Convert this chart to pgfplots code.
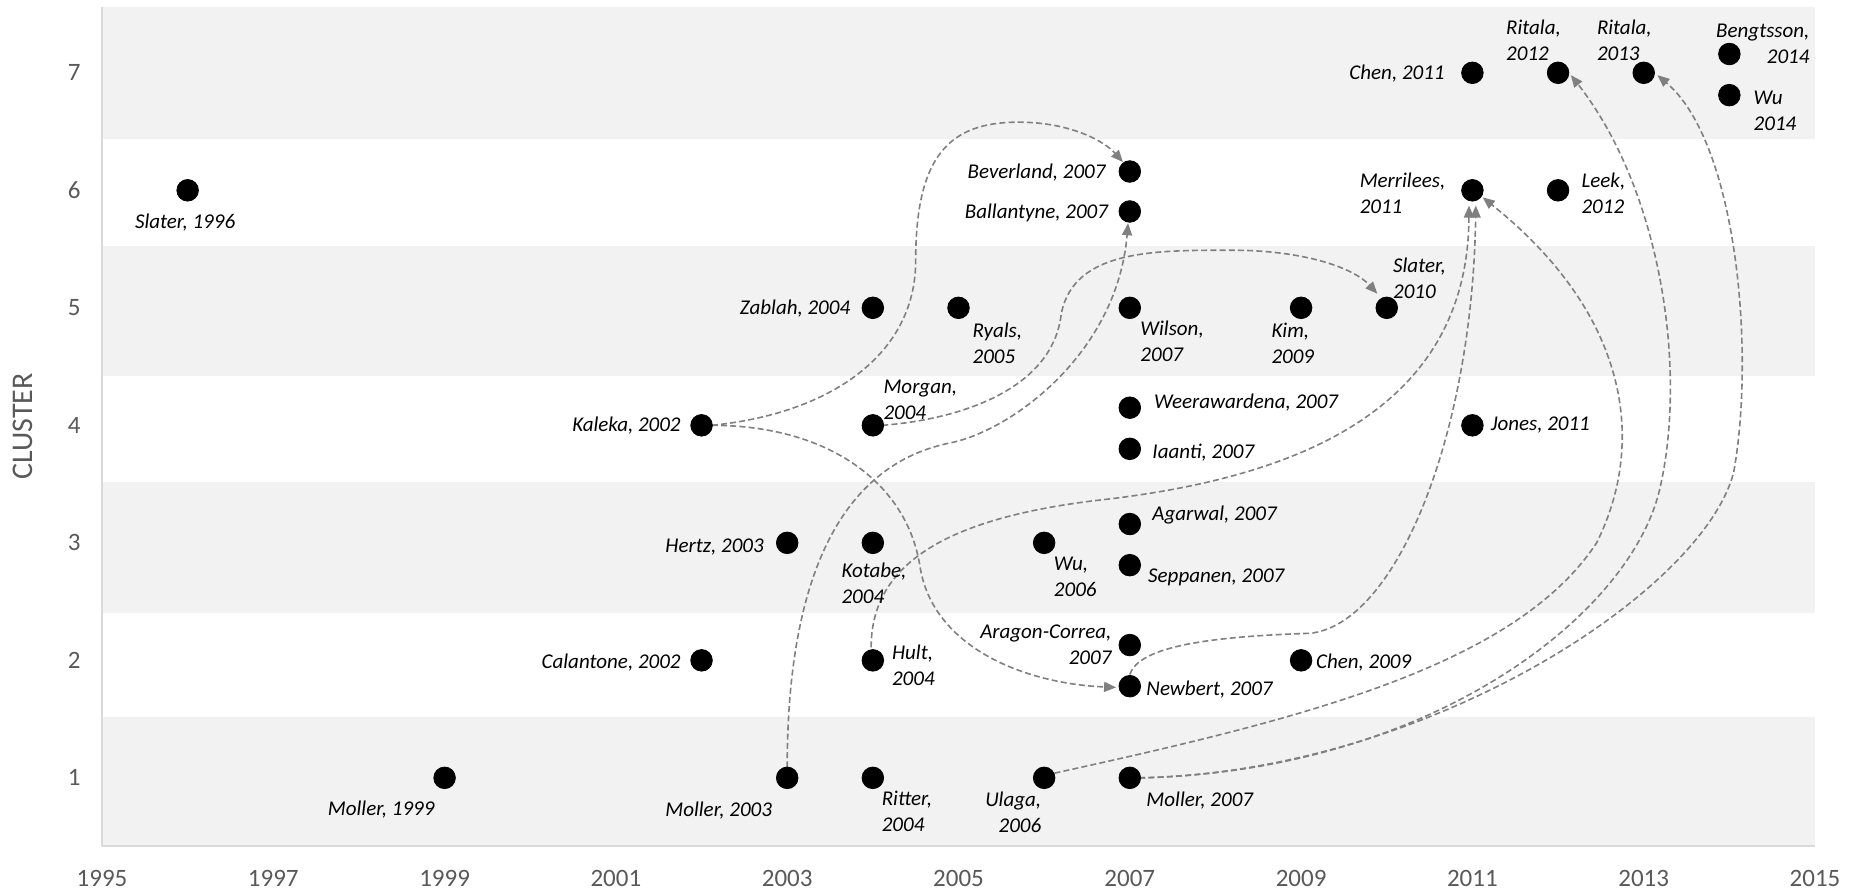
\documentclass[border=0pt]{standalone}
\usepackage{fontspec}
\setmainfont{Carlito}
\usepackage{pgfplots}
\pgfplotsset{compat=1.18}
\usetikzlibrary{arrows.meta}

\definecolor{band}{HTML}{F2F2F2}
\definecolor{axisgray}{HTML}{D9D9D9}
\definecolor{ticktext}{HTML}{595959}
\definecolor{arrowgray}{HTML}{808080}

\tikzset{
  lab/.style={font=\fontsize{10.5}{13}\selectfont\itshape, inner sep=0pt, align=left},
  link/.style={arrowgray, line width=0.8pt, dash pattern=on 3pt off 1.6pt,
    -{Triangle[length=6pt,width=5pt]}},
}

\begin{document}
\begin{tikzpicture}
\begin{axis}[
  width=856.5pt, height=419.5pt, scale only axis,
  xmin=1995, xmax=2015, ymin=0.42, ymax=7.56,
  axis x line*=bottom, axis y line*=left,
  axis line style={axisgray, line width=1pt, -},
  xtick={1995,1997,...,2015}, ytick={1,...,7},
  major tick length=0pt,
  tick label style={font=\fontsize{12.5}{15}\selectfont, text=ticktext, inner sep=0pt},
  xticklabel style={anchor=north, yshift=-12pt},
  yticklabel style={anchor=east, xshift=-10.5pt},
  /pgf/number format/1000 sep={},
  /pgf/number format/assume math mode=true,
  ylabel={CLUSTER},
  ylabel style={at={(axis description cs:-0.0461,0.5)}, anchor=center,
    font=\fontsize{15}{18}\selectfont, text=ticktext},
  clip=false,
  axis on top,
]
\coordinate (bl) at (rel axis cs:0,0);
\coordinate (tr) at (rel axis cs:1,1);

% background bands
\addplot[fill=band, draw=none] coordinates {(1995,6.44) (2015,6.44) (2015,7.56) (1995,7.56)} -- cycle;
\addplot[fill=band, draw=none] coordinates {(1995,4.42) (2015,4.42) (2015,5.53) (1995,5.53)} -- cycle;
\addplot[fill=band, draw=none] coordinates {(1995,2.40) (2015,2.40) (2015,3.52) (1995,3.52)} -- cycle;
\addplot[fill=band, draw=none] coordinates {(1995,0.42) (2015,0.42) (2015,1.52) (1995,1.52)} -- cycle;

% links between papers
\draw[link] (2002.12,4.0) .. controls (2003.5,4.1) and (2004.5,4.6) .. (2004.5,5.4)
  .. controls (2004.5,6.3) and (2004.9,6.58) .. (2005.7,6.58)
  .. controls (2006.3,6.58) and (2006.7,6.42) .. (2006.92,6.24);
\draw[link] (2002.12,4.0) .. controls (2003.5,4.0) and (2004.4,3.5) .. (2004.55,2.8)
  .. controls (2004.7,2.1) and (2005.8,1.8) .. (2006.84,1.77);
\draw[link] (2004.11,4.0) .. controls (2005.0,4.05) and (2006.1,4.3) .. (2006.2,4.95)
  .. controls (2006.35,5.5) and (2007.3,5.49) .. (2008.2,5.49)
  .. controls (2009.0,5.49) and (2009.6,5.35) .. (2009.89,5.12);
\draw[link] (2003.0,1.09) .. controls (2003.0,2.6) and (2003.55,3.65) .. (2004.9,3.85)
  .. controls (2005.6,3.95) and (2006.85,4.6) .. (2006.98,5.72);
\draw[link] (2003.98,2.11) .. controls (2003.98,2.8) and (2004.8,3.2) .. (2006.6,3.36)
  .. controls (2008.6,3.52) and (2010.95,4.0) .. (2010.96,5.87);
\draw[link] (2007.0,1.88) .. controls (2007.1,2.1) and (2007.8,2.2) .. (2009.1,2.23)
  .. controls (2010.1,2.3) and (2011.0,3.9) .. (2011.04,5.87);
\draw[link] (2006.12,1.04) .. controls (2009,1.5) and (2011.5,1.95) .. (2012.45,3.0)
  .. controls (2013.0,3.8) and (2012.9,4.9) .. (2011.12,5.94);
\draw[link] (2007.11,1.0) .. controls (2010.5,1.05) and (2012.9,2.4) .. (2013.2,3.5)
  .. controls (2013.5,4.5) and (2013.2,6.0) .. (2012.15,6.98);
\draw[link] (2007.11,1.0) .. controls (2010.5,1.05) and (2013.7,2.6) .. (2014.05,3.6)
  .. controls (2014.3,4.6) and (2014.1,6.4) .. (2013.16,6.98);

% papers
\addplot[only marks, mark=*, mark size=5.4pt, black] coordinates {
  (1996,6) (1999,1) (2002,2) (2002,4) (2003,3) (2003,1)
  (2004,5) (2004,4) (2004,3) (2004,2) (2004,1) (2005,5)
  (2006,3) (2006,1)
  (2007,6.16) (2007,5.82) (2007,5) (2007,4.15) (2007,3.80) (2007,3.16)
  (2007,2.81) (2007,2.13) (2007,1.78) (2007,1)
  (2009,5) (2009,2) (2010,5) (2011,7) (2011,6) (2011,4)
  (2012,7) (2012,6) (2013,7) (2014,7.16) (2014,6.81)
};

% labels
\node[lab] at (1995.97,5.728) {Slater, 1996};
\node[lab] at (1998.26,0.728) {Moller, 1999};
\node[lab, anchor=east] at (2001.76,1.978) {Calantone, 2002};
\node[lab, anchor=east] at (2001.76,4.00) {Kaleka, 2002};
\node[lab, anchor=east] at (2002.73,2.964) {Hertz, 2003};
\node[lab] at (2002.20,0.719) {Moller, 2003};
\node[lab, anchor=east] at (2003.74,4.997) {Zablah, 2004};
\node[lab, anchor=west] at (2004.12,4.214) {Morgan,\\2004};
\node[lab, anchor=west] at (2003.63,2.658) {Kotabe,\\2004};
\node[lab, anchor=west] at (2004.22,1.961) {Hult,\\2004};
\node[lab, anchor=west] at (2004.10,0.711) {Ritter,\\2004};
\node[lab, anchor=west] at (2005.16,4.699) {Ryals,\\2005};
\node[lab, anchor=west] at (2006.11,2.709) {Wu,\\2006};
\node[lab, anchor=east, align=right] at (2005.97,0.711) {Ulaga,\\2006};
\node[lab, anchor=east] at (2006.72,6.153) {Beverland, 2007};
\node[lab, anchor=east] at (2006.75,5.804) {Ballantyne, 2007};
\node[lab, anchor=west] at (2007.12,4.716) {Wilson,\\2007};
\node[lab, anchor=west] at (2007.28,4.197) {Weerawardena, 2007};
\node[lab, anchor=west] at (2007.26,3.764) {Iaanti, 2007};
\node[lab, anchor=west] at (2007.26,3.236) {Agarwal, 2007};
\node[lab, anchor=west] at (2007.21,2.709) {Seppanen, 2007};
\node[lab, anchor=east, align=right] at (2006.79,2.131) {Aragon-Correa,\\2007};
\node[lab, anchor=west] at (2007.19,1.748) {Newbert, 2007};
\node[lab, anchor=west] at (2007.19,0.804) {Moller, 2007};
\node[lab, anchor=west] at (2008.65,4.699) {Kim,\\2009};
\node[lab, anchor=west] at (2009.17,1.978) {Chen, 2009};
\node[lab, anchor=west] at (2010.07,5.252) {Slater,\\2010};
\node[lab, anchor=east] at (2010.68,6.995) {Chen, 2011};
\node[lab, anchor=west] at (2009.68,5.974) {Merrilees,\\2011};
\node[lab, anchor=west] at (2011.21,4.00) {Jones, 2011};
\node[lab, anchor=west] at (2011.39,7.276) {Ritala,\\2012};
\node[lab, anchor=west] at (2012.27,5.974) {Leek,\\2012};
\node[lab, anchor=west] at (2012.45,7.276) {Ritala,\\2013};
\node[lab, anchor=east, align=right] at (2014.94,7.25) {Bengtsson,\\2014};
\node[lab, anchor=west] at (2014.28,6.68) {Wu\\2014};
\end{axis}
\pgfresetboundingbox
\path ([xshift=-51pt,yshift=-23.5pt]bl) rectangle ([xshift=24pt,yshift=3.5pt]tr);
\end{tikzpicture}
\end{document}
